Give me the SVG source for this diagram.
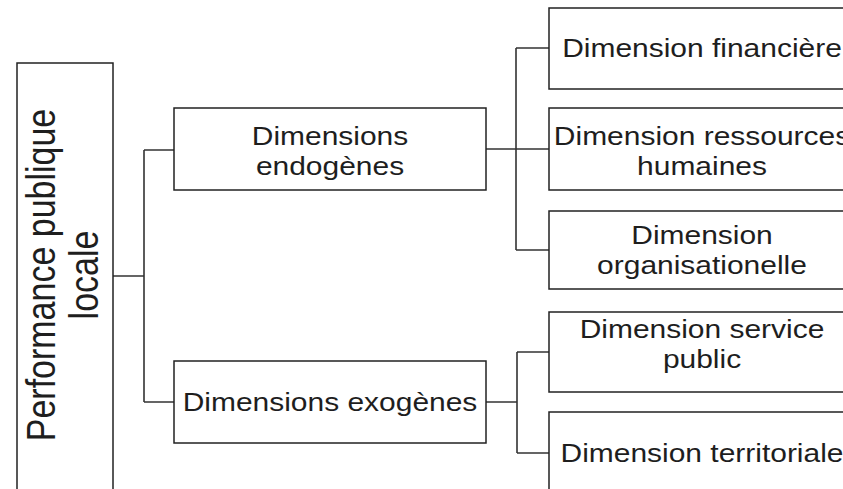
<svg xmlns="http://www.w3.org/2000/svg" width="843" height="489" viewBox="0 0 843 489">
<style>
.box{fill:#fff;stroke:#222;stroke-width:1.5}
.lbl{font-family:"Liberation Sans",Arial,sans-serif;font-size:26.5px;fill:#1e1e1e;text-anchor:middle}
.vlbl{font-family:"Liberation Sans",Arial,sans-serif;font-size:34px;fill:#1e1e1e;text-anchor:middle}
.conn{fill:none;stroke:#333;stroke-width:1.6}
</style>
<rect width="843" height="489" fill="#fff"/>
<g id="connectors">
<path class="conn" d="M113 276H144M144 150V402M144 150H174M144 402H174"/>
<path class="conn" d="M486 149H516M516 48V250M516 48H549M516 149H549M516 250H549"/>
<path class="conn" d="M486 402H517M517 352V453M517 352H549M517 453H549"/>
</g>
<g id="root">
<rect class="box" x="17" y="63" width="96" height="432"/>
<g transform="translate(0,275) scale(1.18,1) rotate(-90)">
<text class="vlbl" x="0" y="46.6">Performance publique</text>
<text class="vlbl" x="0" y="83">locale</text>
</g>
</g>
<g id="endogenes">
<rect class="box" x="174" y="108" width="312" height="82"/>
<g transform="translate(330,0) scale(1.131,1)">
<text class="lbl" x="0" y="145">Dimensions</text>
<text class="lbl" x="0" y="175">endogènes</text>
</g>
</g>
<g id="exogenes">
<rect class="box" x="174" y="361" width="312" height="82"/>
<g transform="translate(330,0) scale(1.131,1)">
<text class="lbl" x="0" y="411">Dimensions exogènes</text>
</g>
</g>
<g id="financiere">
<rect class="box" x="549" y="8" width="306" height="81"/>
<g transform="translate(702,0) scale(1.131,1)">
<text class="lbl" x="0" y="57">Dimension financière</text>
</g>
</g>
<g id="ressources">
<rect class="box" x="549" y="108" width="306" height="82"/>
<g transform="translate(702,0) scale(1.131,1)">
<text class="lbl" x="0" y="145">Dimension ressources</text>
<text class="lbl" x="0" y="175">humaines</text>
</g>
</g>
<g id="organisationelle">
<rect class="box" x="549" y="211" width="306" height="78"/>
<g transform="translate(702,0) scale(1.131,1)">
<text class="lbl" x="0" y="244">Dimension</text>
<text class="lbl" x="0" y="274">organisationelle</text>
</g>
</g>
<g id="service">
<rect class="box" x="549" y="312" width="306" height="80"/>
<g transform="translate(702,0) scale(1.131,1)">
<text class="lbl" x="0" y="338">Dimension service</text>
<text class="lbl" x="0" y="368">public</text>
</g>
</g>
<g id="territoriale">
<rect class="box" x="549" y="412" width="306" height="82"/>
<g transform="translate(702,0) scale(1.131,1)">
<text class="lbl" x="0" y="462">Dimension territoriale</text>
</g>
</g>
</svg>
